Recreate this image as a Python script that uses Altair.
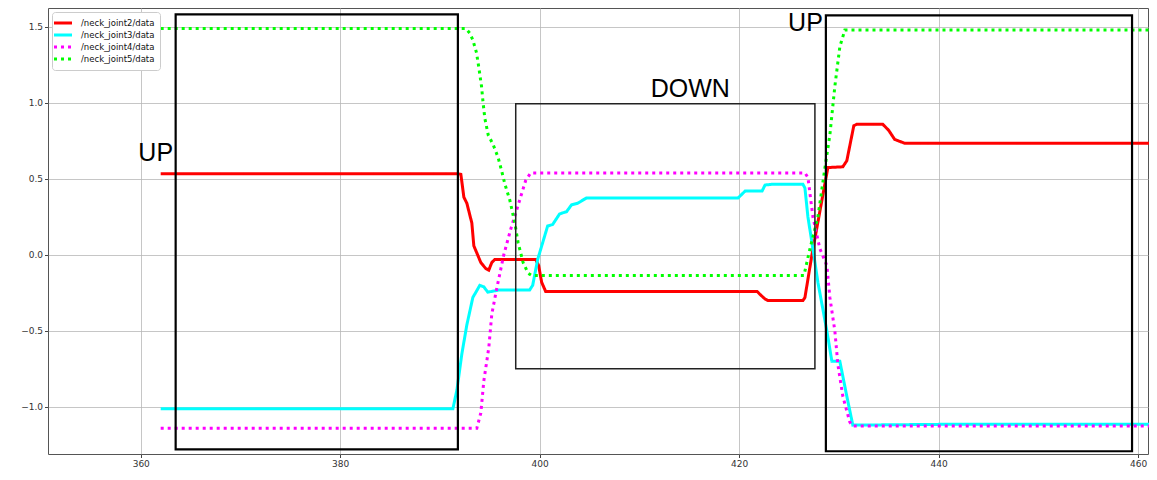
import altair as alt
import pandas as pd

# ---------------- data ----------------
series_names = ["/neck_joint2/data", "/neck_joint3/data", "/neck_joint4/data", "/neck_joint5/data"]
series_colors = ["#ff0000", "#00ffff", "#ff00ff", "#00ff00"]

joint2_t = [362, 391.8, 392.1, 392.4, 392.7, 393.2, 393.4, 394.1, 394.6, 394.9, 395.2, 395.5,
            399.6, 399.9, 400.2, 400.6, 421.8, 422.1, 422.6, 422.9, 426.4, 426.6, 427.3, 428.9,
            430.4, 430.8, 431.5, 431.8, 434.4, 435.0, 435.6, 436.6, 461.2]
joint2_v = [0.535, 0.535, 0.53, 0.38, 0.34, 0.21, 0.06, -0.05, -0.09, -0.1, -0.05, -0.03,
            -0.03, -0.07, -0.18, -0.24, -0.24, -0.26, -0.29, -0.30, -0.30, -0.28, 0.0, 0.575,
            0.58, 0.62, 0.85, 0.86, 0.86, 0.82, 0.76, 0.735, 0.735]

joint3_t = [362, 391.3, 391.7, 392.2, 392.7, 393.3, 394.0, 394.4, 394.8, 396.0, 399.0, 399.3,
            399.8, 400.3, 400.8, 401.3, 402.0, 402.7, 403.2, 403.8, 404.7, 419.9, 420.6, 422.3,
            422.6, 423.3, 426.4, 426.6, 426.9, 427.4, 427.9, 428.8, 429.3, 430.1, 430.8, 431.4,
            440.0, 461.2]
joint3_v = [-1.012, -1.012, -0.89, -0.65, -0.46, -0.28, -0.2, -0.21, -0.245, -0.23, -0.23, -0.2,
            -0.03, 0.08, 0.19, 0.2, 0.27, 0.285, 0.33, 0.34, 0.375, 0.375, 0.42, 0.42,
            0.46, 0.465, 0.465, 0.44, 0.25, 0.04, -0.18, -0.5, -0.7, -0.7, -0.93, -1.12,
            -1.115, -1.115]

joint4_t = [362, 393.7, 394.1, 394.4, 394.9, 395.2, 395.7, 396.4, 397.1, 397.9, 398.6, 399.1,
            426.6, 426.9, 427.4, 428.1, 428.8, 429.1, 429.6, 429.9, 430.4, 431.1, 431.4, 461.2]
joint4_v = [-1.14, -1.14, -1.04, -0.83, -0.61, -0.39, -0.22, 0.0, 0.17, 0.34, 0.49, 0.54,
            0.54, 0.51, 0.25, 0.04, -0.07, -0.28, -0.5, -0.72, -0.93, -1.1, -1.125, -1.125]

joint5_t = [362, 392.6, 393.0, 393.3, 393.67, 393.93, 394.17, 394.33, 394.5, 394.84, 395.34,
            395.84, 396.18, 396.51, 397.01, 397.51, 397.84, 398.34, 398.84, 399.19, 426.5,
            427.1, 427.9, 428.6, 429.1, 429.6, 430.1, 430.6, 461.2]
joint5_v = [1.49, 1.49, 1.46, 1.415, 1.33, 1.22, 1.11, 1.0, 0.9, 0.79, 0.725,
            0.64, 0.555, 0.467, 0.36, 0.21, 0.08, -0.05, -0.12, -0.135, -0.135,
            0.04, 0.25, 0.57, 0.79, 1.11, 1.37, 1.48, 1.48]

box_x1 = [363.5, 397.6, 428.7]
box_x2 = [391.8, 427.6, 459.4]
box_y1 = [1.583, 0.995, 1.576]
box_y2 = [-1.279, -0.749, -1.292]
box_heavy = [True, False, True]

label_text = ["UP", "DOWN", "UP"]
label_x = [361.5, 415.1, 426.65]
label_y = [0.672, 1.095, 1.525]

x_ticks = [360, 380, 400, 420, 440, 460]
y_ticks = [-1.0, -0.5, 0.0, 0.5, 1.0, 1.5]

# ---------------- tables ----------------
rows = []
for name, ts, vs in zip(series_names,
                        [joint2_t, joint3_t, joint4_t, joint5_t],
                        [joint2_v, joint3_v, joint4_v, joint5_v]):
    for i, (t, v) in enumerate(zip(ts, vs)):
        rows.append({"series": name, "t": t, "v": v, "i": i})
lines_df = pd.DataFrame(rows)

boxes_df = pd.DataFrame({"x1": box_x1, "x2": box_x2, "y1": box_y1, "y2": box_y2, "heavy": box_heavy})
labels_df = pd.DataFrame({"text": label_text, "x": label_x, "y": label_y})

x_scale = alt.Scale(domain=[350.7, 461.0], nice=False, zero=False)
y_scale = alt.Scale(domain=[-1.31, 1.625], nice=False, zero=False)

x_axis = alt.Axis(values=x_ticks, format="d", title=None, grid=True)
y_axis = alt.Axis(values=y_ticks, format=".1f", title=None, grid=True)

lines = alt.Chart(lines_df).mark_line(strokeWidth=3, strokeCap="butt").encode(
    x=alt.X("t:Q", scale=x_scale, axis=x_axis),
    y=alt.Y("v:Q", scale=y_scale, axis=y_axis),
    color=alt.Color("series:N", scale=alt.Scale(domain=series_names, range=series_colors),
                    legend=alt.Legend(title=None, orient="top-left")),
    strokeDash=alt.StrokeDash("series:N",
                              scale=alt.Scale(domain=series_names,
                                              range=[[1, 0], [1, 0], [3, 4], [3, 4]]),
                              legend=alt.Legend(title=None, orient="top-left")),
    order="i:Q",
)

heavy_boxes = alt.Chart(boxes_df).transform_filter("datum.heavy").mark_rect(
    fillOpacity=0, stroke="black", strokeWidth=2.2
).encode(
    x=alt.X("x1:Q", scale=x_scale), x2="x2:Q",
    y=alt.Y("y1:Q", scale=y_scale), y2="y2:Q",
)

light_boxes = alt.Chart(boxes_df).transform_filter("!datum.heavy").mark_rect(
    fillOpacity=0, stroke="#222222", strokeWidth=1.5
).encode(
    x=alt.X("x1:Q", scale=x_scale), x2="x2:Q",
    y=alt.Y("y1:Q", scale=y_scale), y2="y2:Q",
)

texts = alt.Chart(labels_df).mark_text(
    font="Liberation Sans", fontSize=25, color="black", align="center", baseline="middle"
).encode(
    x=alt.X("x:Q", scale=x_scale),
    y=alt.Y("y:Q", scale=y_scale),
    text="text:N",
)

chart = alt.layer(lines, heavy_boxes, light_boxes, texts).properties(
    width=1100,
    height=446,
    padding={"left": 40, "top": 0, "right": 1, "bottom": 14},
    autosize=alt.AutoSizeParams(type="none"),
).configure_view(
    stroke="#555555", strokeWidth=1
).configure_axis(
    gridColor="#b8b8b8", gridWidth=0.8, domain=False,
    tickColor="#444444", tickSize=3.5, labelColor="#333333",
    labelFont="DejaVu Sans", labelFontSize=9, labelPadding=2,
).configure_legend(
    symbolType="M-2,0H2", symbolStrokeWidth=3, symbolSize=81,
    symbolFillColor="transparent",
    labelFont="DejaVu Sans", labelFontSize=8.5, labelColor="#111111",
    fillColor="white", strokeColor="#cccccc", cornerRadius=3,
    padding=5, offset=4, rowPadding=0, labelOffset=12,
)

chart.save("out.html", embed_options={"renderer": "svg", "actions": False})
